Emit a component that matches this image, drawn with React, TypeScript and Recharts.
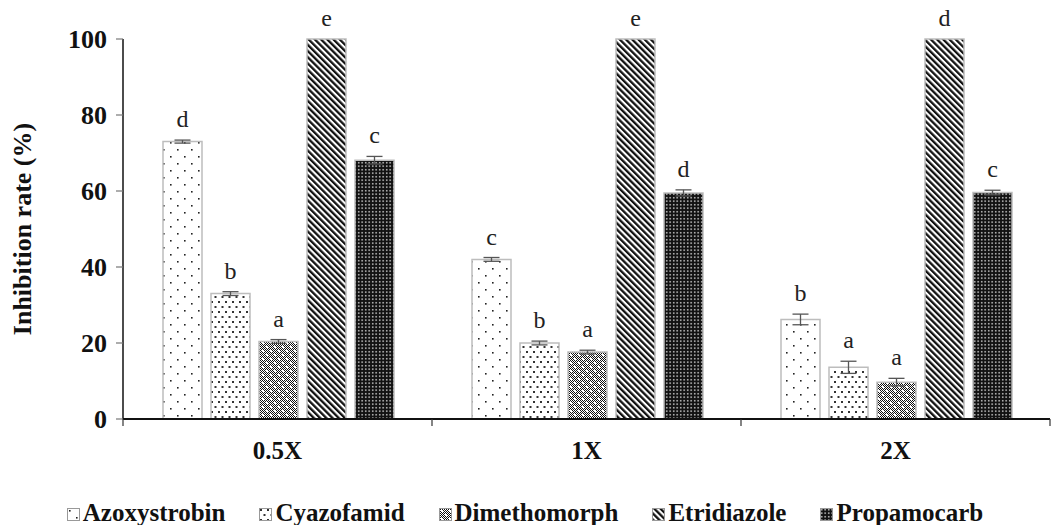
import React from 'react';
import { BarChart, Bar, XAxis, YAxis, ErrorBar, LabelList, Legend } from 'recharts';

const categories = ['0.5X', '1X', '2X'];
const seriesNames = ['Azoxystrobin', 'Cyazofamid', 'Dimethomorph', 'Etridiazole', 'Propamocarb'];
const azoxystrobin = [73.0, 42.0, 26.2];
const cyazofamid = [33.0, 20.0, 13.6];
const dimethomorph = [20.4, 17.6, 9.7];
const etridiazole = [100, 100, 100];
const propamocarb = [68.1, 59.5, 59.6];
const azoxystrobinErr = [0.4, 0.5, 1.4];
const cyazofamidErr = [0.5, 0.5, 1.6];
const dimethomorphErr = [0.5, 0.5, 1.0];
const etridiazoleErr = [0, 0, 0];
const propamocarbErr = [1.0, 0.8, 0.6];
const azoxystrobinLetters = ['d', 'c', 'b'];
const cyazofamidLetters = ['b', 'b', 'a'];
const dimethomorphLetters = ['a', 'a', 'a'];
const etridiazoleLetters = ['e', 'e', 'd'];
const propamocarbLetters = ['c', 'd', 'c'];
const yTicks = [0, 20, 40, 60, 80, 100];

const values = [azoxystrobin, cyazofamid, dimethomorph, etridiazole, propamocarb];
const errors = [azoxystrobinErr, cyazofamidErr, dimethomorphErr, etridiazoleErr, propamocarbErr];
const letters = [azoxystrobinLetters, cyazofamidLetters, dimethomorphLetters, etridiazoleLetters, propamocarbLetters];
const keys = ['s0', 's1', 's2', 's3', 's4'];
const patternIds = ['patAzo', 'patCya', 'patDim', 'patEtr', 'patPro'];

const data = categories.map((c, i) => {
  const row: any = { name: c };
  keys.forEach((k, s) => {
    row[k] = values[s][i];
    row[k + 'e'] = errors[s][i];
  });
  return row;
});

const FONT = '"Liberation Serif", "Times New Roman", serif';

const checker: [number, number][] = [];
for (let yy = 0; yy < 8; yy++) {
  for (let xx = 0; xx < 8; xx++) {
    if ((xx + yy) % 2 === 0) {
      const inWhite = (xx >= 2 && xx <= 3 && yy >= 2 && yy <= 3) || (xx >= 6 && yy >= 6);
      if (!inWhite) checker.push([xx, yy]);
    }
  }
}

const Patterns = () => (
  <defs>
    <pattern id="patAzo" width="14" height="14" patternUnits="userSpaceOnUse">
      <rect width="14" height="14" fill="#fff" />
      <rect x="2" y="2" width="1.6" height="1.6" fill="#222" />
      <rect x="9" y="9" width="1.6" height="1.6" fill="#222" />
    </pattern>
    <pattern id="patCya" width="7" height="10" patternUnits="userSpaceOnUse">
      <rect width="7" height="10" fill="#fff" />
      <rect x="1" y="1" width="2" height="2" fill="#333" />
      <rect x="4.5" y="6" width="2" height="2" fill="#333" />
    </pattern>
    <pattern id="patDim" width="8" height="8" patternUnits="userSpaceOnUse">
      <rect width="8" height="8" fill="#fff" />
      {checker.map(([xx, yy]) => (
        <rect key={`${xx}-${yy}`} x={xx} y={yy} width="1" height="1" fill="#111" />
      ))}
    </pattern>
    <pattern id="patEtr" width="4.4" height="4.4" patternUnits="userSpaceOnUse" patternTransform="rotate(-45)">
      <rect width="4.4" height="4.4" fill="#fff" />
      <rect x="0" y="0" width="2.3" height="4.4" fill="#111" />
    </pattern>
    <pattern id="patPro" width="3.5" height="3.5" patternUnits="userSpaceOnUse">
      <rect width="3.5" height="3.5" fill="#111" />
      <rect x="1" y="1" width="1.4" height="1.4" fill="#eee" />
    </pattern>
  </defs>
);

const makeLabel = (s: number) => (props: any) => {
  const { x, y, width, height, index } = props;
  const v = values[s][index];
  const ppu = v ? height / v : 0;
  const top = y - errors[s][index] * ppu;
  return (
    <text x={x + width / 2} y={top - 13} textAnchor="middle" fontSize={24} fontFamily={FONT} fill="#222">
      {letters[s][index]}
    </text>
  );
};

const XTick = (props: any) => {
  const { x, y, payload, index } = props;
  const off = payload && payload.offset ? payload.offset : 154.5;
  const last = index === categories.length - 1;
  return (
    <g>
      <line x1={x - off} x2={x - off} y1={y - 8} y2={y - 1} stroke="#333" strokeWidth={1.2} />
      {last && <line x1={x + off} x2={x + off} y1={y - 8} y2={y - 1} stroke="#333" strokeWidth={1.2} />}
      <text x={x} y={y + 32} textAnchor="middle" fontSize={25} fontWeight="bold" fontFamily={FONT} fill="#111">
        {payload.value}
      </text>
    </g>
  );
};

const LegendContent = () => (
  <div style={{ display: 'flex', justifyContent: 'center', alignItems: 'flex-end', height: 40, paddingTop: 13, boxSizing: 'border-box', fontFamily: FONT, fontWeight: 'bold', fontSize: 25, lineHeight: '25px', color: '#111' }}>
    {seriesNames.map((n, i) => (
      <div key={n} style={{ display: 'flex', alignItems: 'baseline', marginRight: i < seriesNames.length - 1 ? 34 : 0 }}>
        <svg width={13} height={13} style={{ marginRight: 3 }}>
          <rect x={0.5} y={0.5} width={12} height={12} fill={`url(#${patternIds[i]})`} stroke="#999" strokeWidth={1} />
        </svg>
        <span>{n}</span>
      </div>
    ))}
  </div>
);

export default function App() {
  return (
    <div style={{ position: 'absolute', left: 0, top: 0, width: 1060, height: 525, background: '#fff' }}>
      <BarChart
        width={1060}
        height={525}
        data={data}
        margin={{ top: 39, right: 10, left: 0, bottom: 0 }}
        barCategoryGap={40}
        barGap={9}
      >
        <Patterns />
        <XAxis
          dataKey="name"
          height={66}
          axisLine={{ stroke: '#111', strokeWidth: 2 }}
          tickLine={false}
          tick={<XTick />}
          interval={0}
        />
        <YAxis
          width={123}
          domain={[0, 100]}
          ticks={yTicks}
          interval={0}
          axisLine={{ stroke: '#111', strokeWidth: 1.5 }}
          tickLine={{ stroke: '#777', strokeWidth: 1.2 }}
          tickSize={7}
          tick={{ fontSize: 26, fontWeight: 'bold', fontFamily: FONT, fill: '#111' }}
          tickMargin={9}
          label={{
            value: 'Inhibition rate (%)',
            angle: -90,
            position: 'insideLeft',
            offset: 22,
            style: { fontSize: 26, fontWeight: 'bold', fontFamily: FONT, fill: '#111', textAnchor: 'middle' },
          }}
        />
        <Legend verticalAlign="bottom" content={<LegendContent />} />
        {keys.map((k, s) => (
          <Bar
            key={k}
            dataKey={k}
            name={seriesNames[s]}
            fill={`url(#${patternIds[s]})`}
            stroke="#bdbdbd"
            strokeWidth={1.5}
            isAnimationActive={false}
          >
            <ErrorBar dataKey={k + 'e'} width={8} stroke="#555" strokeWidth={1.3} direction="y" />
            <LabelList dataKey={k} content={makeLabel(s)} />
          </Bar>
        ))}
      </BarChart>
    </div>
  );
}
